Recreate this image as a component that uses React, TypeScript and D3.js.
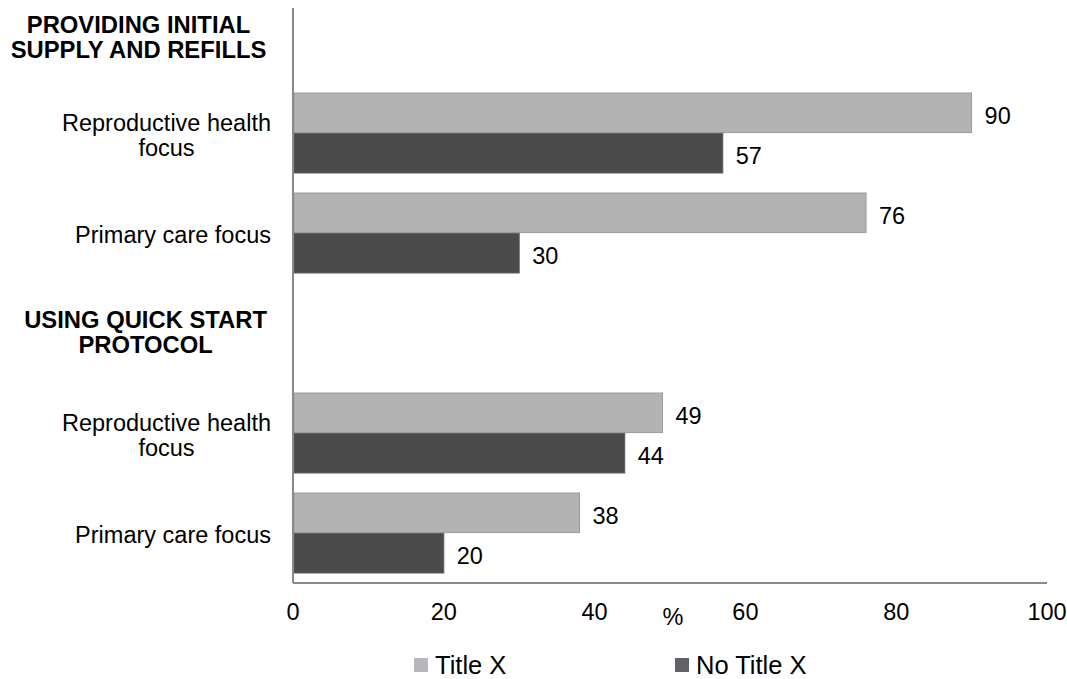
import React from "react";
import * as d3 from "d3";

const categories = [
  "PROVIDING INITIAL\nSUPPLY AND REFILLS",
  "Reproductive health\nfocus",
  "Primary care focus",
  "USING QUICK START\nPROTOCOL",
  "Reproductive health\nfocus",
  "Primary care focus",
];
const isHeader = [true, false, false, true, false, false];
const titleX: (number | null)[] = [null, 90, 76, null, 49, 38];
const noTitleX: (number | null)[] = [null, 57, 30, null, 44, 20];
const seriesNames = ["Title X", "No Title X"];
const xTicks = [0, 20, 40, 60, 80, 100];
const axisTitle = "%";

const W = 1067;
const H = 679;
const FONT = "'Liberation Sans', Arial, sans-serif";
const FS = 23.5;
const FS_HEAD = 23.8;
const labelOffsets = [4, 2, 2, -1, 2, 2];

let ctx: CanvasRenderingContext2D | null = null;
function measure(t: string, bold: boolean, fs: number) {
  if (!ctx) ctx = document.createElement("canvas").getContext("2d");
  if (!ctx) return t.length * fs * 0.5;
  ctx.font = `${bold ? "bold " : ""}${fs}px ${FONT}`;
  return ctx.measureText(t).width;
}

export default function App() {
  const x = d3.scaleLinear().domain([0, 100]).range([293, 1047]);
  const y = d3
    .scaleBand<number>()
    .domain(categories.map((_, i) => i))
    .range([-17, 583])
    .paddingInner(0.2)
    .paddingOuter(0.1);
  const sub = d3.scaleBand<number>().domain([0, 1]).range([0, y.bandwidth()]).paddingInner(0.02);
  const series = [titleX, noTitleX];
  const fills = ["#b3b3b3", "#4b4b4b"];
  const strokes = ["#9c9c9c", "#5e5e5e"];
  const legendFills = ["#b5b7ba", "#636367"];
  const lineH = 25;

  return (
    <svg width={W} height={H} style={{ display: "block", position: "absolute", left: 0, top: 0 }} fontFamily={FONT}>
      <rect width={W} height={H} fill="#fff" />
      {/* bars */}
      {series.map((vals, s) =>
        vals.map((v, i) =>
          v == null ? null : (
            <g key={`${s}-${i}`}>
              <rect
                x={x(0) + 1}
                y={(y(i) as number) + (sub(s) as number)}
                width={x(v) - x(0) - 1}
                height={sub.bandwidth()}
                fill={fills[s]}
                stroke={strokes[s]}
                strokeWidth={1}
              />
              <text
                x={x(v) + 13}
                y={(y(i) as number) + (sub(s) as number) + sub.bandwidth() / 2 + 3}
                dominantBaseline="central"
                fontSize={FS}
                fill="#000"
              >
                {v}
              </text>
            </g>
          )
        )
      )}
      {/* category labels */}
      {categories.map((c, i) => {
        const lines = c.split("\n");
        const bold = isHeader[i];
        const fs = bold ? FS_HEAD : FS;
        const right = bold ? 267 : 271;
        const maxW = Math.max(...lines.map((l) => measure(l, bold, fs)));
        const cx = right - maxW / 2;
        const cy = (y(i) as number) + y.bandwidth() / 2 + labelOffsets[i];
        return (
          <text key={i} fontSize={fs} fontWeight={bold ? "bold" : "normal"} textAnchor="middle" fill="#000">
            {lines.map((l, k) => (
              <tspan key={k} x={cx} y={cy + (k - (lines.length - 1) / 2) * lineH} dominantBaseline="central">
                {l}
              </tspan>
            ))}
          </text>
        );
      })}
      {/* axes */}
      <line x1={x(0)} x2={x(0)} y1={8} y2={583} stroke="#8a8a8a" strokeWidth={2} />
      <line x1={x(0)} x2={x(100)} y1={583} y2={583} stroke="#8a8a8a" strokeWidth={2} />
      {xTicks.map((t) => (
        <text key={t} x={x(t)} y={620} textAnchor="middle" fontSize={FS} fill="#000">
          {t}
        </text>
      ))}
      <text x={x(50) + 3} y={625} textAnchor="middle" fontSize={FS} fill="#000">
        {axisTitle}
      </text>
      {/* legend */}
      {seriesNames.map((n, s) => {
        const lx = s === 0 ? 414 : 675;
        return (
          <g key={n}>
            <rect x={lx} y={658} width={14} height={14} fill={legendFills[s]} />
            <text x={lx + 21} y={665} dominantBaseline="central" fontSize={25.5} fill="#000">
              {n}
            </text>
          </g>
        );
      })}
    </svg>
  );
}
